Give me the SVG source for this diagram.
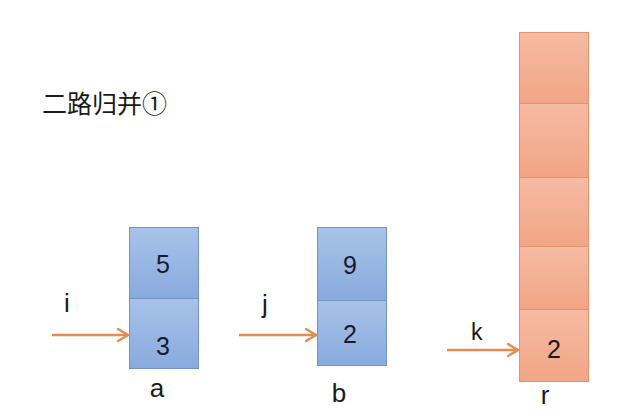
<svg xmlns="http://www.w3.org/2000/svg" width="634" height="411" viewBox="0 0 634 411">
<defs>
<linearGradient id="gb" x1="0" y1="0" x2="0" y2="1"><stop offset="0" stop-color="#a8c3e8"/><stop offset="1" stop-color="#88aade"/></linearGradient>
<linearGradient id="go" x1="0" y1="0" x2="0" y2="1"><stop offset="0" stop-color="#f6bba3"/><stop offset="1" stop-color="#f1a585"/></linearGradient>
<marker id="ah" viewBox="0 0 14 16" refX="12" refY="8" markerWidth="14" markerHeight="16" markerUnits="userSpaceOnUse" orient="auto"><path d="M2,2 L12,8 L2,14" fill="none" stroke="#e48c55" stroke-width="2.4" stroke-linecap="round"/></marker>
</defs>
<style>
.b{fill:url(#gb);stroke:#7193c8;stroke-width:1}
.o{fill:url(#go);stroke:#e0956a;stroke-width:1}
.t{font-family:"Liberation Sans",Arial,sans-serif;font-size:26px;fill:#1a1a1a}
.n{font-family:"Liberation Sans",Arial,sans-serif;font-size:25px;fill:#1a1a2a;text-anchor:middle}
.l{font-family:"Liberation Sans",Arial,sans-serif;font-size:26px;fill:#1a1a1a;text-anchor:middle}
.c{stroke:#e48c55;stroke-width:2.5;fill:none;marker-end:url(#ah)}
</style>
<rect width="634" height="411" fill="#ffffff"/>
<text x="42" y="113" style="font-family:'Noto Sans CJK SC','Liberation Sans',sans-serif;font-size:25px;fill:#1a1a1a">二路归并①</text>
<g id="a">
<rect class="b" x="129.5" y="227.5" width="69" height="71"/>
<rect class="b" x="129.5" y="298.5" width="69" height="70"/>
<text class="n" x="163" y="273">5</text>
<text class="n" x="163" y="355">3</text>
<text class="l" x="157" y="397">a</text>
</g>
<g id="b">
<rect class="b" x="317.5" y="227.5" width="69" height="73"/>
<rect class="b" x="317.5" y="300.5" width="69" height="65"/>
<text class="n" x="350" y="274">9</text>
<text class="n" x="350" y="343">2</text>
<text class="l" x="339" y="402">b</text>
</g>
<g id="r">
<rect class="o" x="519.5" y="32.5" width="69" height="71"/>
<rect class="o" x="519.5" y="103.5" width="69" height="74"/>
<rect class="o" x="519.5" y="177.5" width="69" height="69"/>
<rect class="o" x="519.5" y="246.5" width="69" height="63"/>
<rect class="o" x="519.5" y="309.5" width="69" height="72"/>
<text class="n" x="554" y="358">2</text>
<text class="l" x="545" y="404">r</text>
</g>
<g id="connectors">
<line class="c" x1="52" y1="335" x2="128" y2="335"/>
<line class="c" x1="239" y1="335" x2="316" y2="335"/>
<line class="c" x1="447" y1="350" x2="518" y2="350"/>
<text class="t" x="64" y="312">i</text>
<text class="t" x="262" y="313">j</text>
<text x="471" y="340" style="font-family:'Liberation Sans',Arial,sans-serif;font-size:23px;fill:#1a1a1a">k</text>
</g>
</svg>
